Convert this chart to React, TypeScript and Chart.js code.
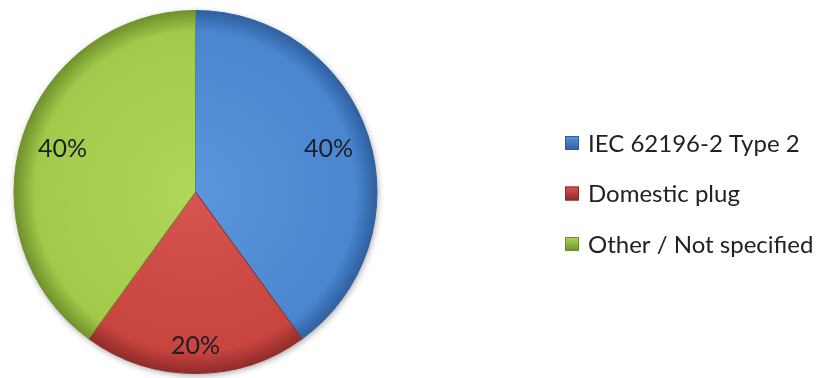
import React, { useEffect, useRef } from "react";
import { Chart, registerables } from "chart.js";

Chart.register(...registerables);

const categories = ["IEC 62196-2 Type 2", "Domestic plug", "Other / Not specified"];
const shares = [40, 20, 40];
const percentLabels = ["40%", "20%", "40%"];

const baseColors = ["#4A86D0", "#C8443F", "#A2CA4A"];
const lightColors = ["#5B95DC", "#D65550", "#B0D65A"];
const edgeColors = ["#2F5F9E", "#8E2B28", "#6F8F2C"];
const labelRadiusFrac = [0.77, 0.85, 0.77];

const FONT = "Lato, 'Open Sans', sans-serif";

function radialFill(ctx: any) {
  const index = ctx.dataIndex ?? 0;
  const chart = ctx.chart;
  const area = chart.chartArea;
  if (!area) return baseColors[index];
  const cx = (area.left + area.right) / 2;
  const cy = (area.top + area.bottom) / 2;
  const r = Math.min(area.right - area.left, area.bottom - area.top) / 2;
  const g = chart.ctx.createRadialGradient(cx, cy, 0, cx, cy, r);
  g.addColorStop(0, lightColors[index]);
  g.addColorStop(0.88, baseColors[index]);
  g.addColorStop(1, edgeColors[index]);
  return g;
}

const shadowPlugin = {
  id: "pieShadow",
  beforeDatasetsDraw(chart: any) {
    const arc = chart.getDatasetMeta(0).data[0];
    if (!arc) return;
    const c = chart.ctx;
    c.save();
    c.shadowColor = "rgba(0,0,0,0.35)";
    c.shadowBlur = 6;
    c.shadowOffsetX = 1;
    c.shadowOffsetY = 2;
    c.fillStyle = "#ffffff";
    c.beginPath();
    c.arc(arc.x, arc.y, arc.outerRadius, 0, Math.PI * 2);
    c.fill();
    c.restore();
  },
};

const labelPlugin = {
  id: "sliceLabels",
  afterDatasetsDraw(chart: any) {
    const meta = chart.getDatasetMeta(0);
    const c = chart.ctx;
    c.save();
    c.font = `25px ${FONT}`;
    c.fillStyle = "#1c1f2a";
    c.textAlign = "center";
    c.textBaseline = "middle";
    meta.data.forEach((arc: any, i: number) => {
      const mid = (arc.startAngle + arc.endAngle) / 2;
      const rr = arc.outerRadius * labelRadiusFrac[i];
      c.fillText(percentLabels[i], arc.x + Math.cos(mid) * rr, arc.y + Math.sin(mid) * rr);
    });
    c.restore();
  },
};

const legendPlugin = {
  id: "sideLegend",
  afterDraw(chart: any) {
    const c = chart.ctx;
    const x0 = 565;
    const y0 = 143;
    const step = 50.5;
    const box = 14;
    c.save();
    c.font = `24px ${FONT}`;
    c.textBaseline = "middle";
    c.textAlign = "left";
    (chart.data.labels as string[]).forEach((lab, i) => {
      const y = y0 + i * step;
      const g = c.createLinearGradient(0, y - box / 2, 0, y + box / 2);
      g.addColorStop(0, lightColors[i]);
      g.addColorStop(1, edgeColors[i]);
      c.fillStyle = g;
      c.fillRect(x0, y - box / 2, box, box);
      c.strokeStyle = edgeColors[i];
      c.lineWidth = 1;
      c.strokeRect(x0 + 0.5, y - box / 2 + 0.5, box - 1, box - 1);
      c.fillStyle = "#222222";
      c.fillText(lab, x0 + 23, y + 1);
    });
    c.restore();
  },
};

export default function App() {
  const ref = useRef<HTMLCanvasElement | null>(null);
  useEffect(() => {
    document.body.style.margin = "0";
    const canvas = ref.current;
    if (!canvas) return;
    const chart = new Chart(canvas, {
      type: "pie",
      data: {
        labels: categories,
        datasets: [
          {
            data: shares,
            backgroundColor: radialFill as any,
            borderColor: edgeColors,
            borderWidth: 1,
          },
        ],
      },
      options: {
        responsive: false,
        animation: false,
        layout: { padding: { left: 13, right: 454, top: 10, bottom: 4 } },
        plugins: {
          legend: { display: false },
          tooltip: { enabled: false },
        },
      },
      plugins: [shadowPlugin, labelPlugin, legendPlugin],
    });
    return () => chart.destroy();
  }, []);
  return (
    <div style={{ position: "absolute", left: 0, top: 0, width: 832, height: 378, background: "#ffffff" }}>
      <canvas ref={ref} width={832} height={378} />
    </div>
  );
}
